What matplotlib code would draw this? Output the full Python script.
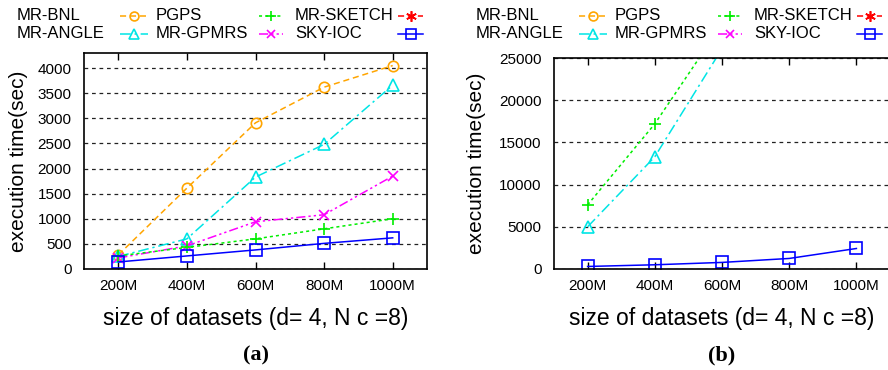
import matplotlib
matplotlib.use("Agg")
import matplotlib.pyplot as plt
from matplotlib.lines import Line2D
from matplotlib import font_manager

# dataset sizes (M records)
sizes = [200, 400, 600, 800, 1000]
size_labels = ["200M", "400M", "600M", "800M", "1000M"]

# panel (a): execution time in seconds
a_bnl = [280, 1610, 2910, 3620, 4050]
a_angle = [250, 600, 1830, 2480, 3660]
a_pgps = [260, 430, 600, 800, 1000]
a_gpmrs = [220, 460, 940, 1080, 1850]
a_skyioc = [140, 260, 380, 510, 620]

# panel (b): only the series that fit on the 0-25000 scale
b_sizes_short = [200, 400, 600]
b_pgps = [7600, 17200, 29000]
b_angle = [5000, 13300, 26100]
b_skyioc = [300, 500, 780, 1250, 2430]

W, H = 888, 370
fig = plt.figure(figsize=(W / 100, H / 100), dpi=100)

names = set(f.name for f in font_manager.fontManager.ttflist)
narrow = "Liberation Sans Narrow" if "Liberation Sans Narrow" in names else "Liberation Sans"
plt.rcParams["font.family"] = ["Liberation Sans", "DejaVu Sans"]

styles = {
    "MR-BNL": dict(color="#ffa500", ls=(0, (4, 2.5)), marker="o", ms=7.5),
    "MR-ANGLE": dict(color="#00e5e5", ls=(0, (7, 2.5, 1.5, 2.5)), marker="^", ms=8),
    "PGPS": dict(color="#00ee00", ls=(0, (2, 2)), marker="+", ms=8),
    "MR-GPMRS": dict(color="#ff00ff", ls=(0, (6, 2, 1.5, 2, 1.5, 2)), marker="x", ms=7),
    "MR-SKETCH": dict(color="#ff0000", ls=(0, (4, 2.5)), marker=(6, 2, 0), ms=9),
    "SKY-IOC": dict(color="#0000ff", ls="-", marker="s", ms=8),
}


def fx(x):
    return x / W


def fy(y):
    return 1 - y / H


def plot_series(ax, xs, ys, name):
    st = styles[name]
    ax.plot(xs, ys, color=st["color"], linestyle=st["ls"], lw=1.1,
            marker=st["marker"], ms=st["ms"], mfc="none", mec=st["color"], mew=1.2)


def draw_key(x0):
    order = [["MR-BNL", "MR-ANGLE"], ["PGPS", "MR-GPMRS"], ["MR-SKETCH", "SKY-IOC"]]
    text_dx = [0, 139, 278]
    samp = [(103, 131), (242, 266), (381, 406)]
    rows = [15.5, 34]
    for c, col in enumerate(order):
        for r, name in enumerate(col):
            st = styles[name]
            y = rows[r]
            fig.text(fx(x0 + text_dx[c]), fy(y), name, fontsize=12,
                     ha="left", va="center")
            sx0, sx1 = x0 + samp[c][0], x0 + samp[c][1]
            fig.add_artist(Line2D([fx(sx0), fx(sx1)], [fy(y), fy(y)],
                                  color=st["color"], linestyle=st["ls"], lw=1.1))
            fig.add_artist(Line2D([fx((sx0 + sx1) / 2)], [fy(y)], color=st["color"],
                                  marker=st["marker"], ms=st["ms"] * 0.85, mfc="none",
                                  mew=1.2, linestyle="none"))


def style_axes(ax, ymax, yticks, label, ylab_x):
    ax.set_xlim(100, 1100)
    ax.set_ylim(0, ymax)
    ax.set_xticks(sizes)
    ax.set_xticklabels(size_labels, fontfamily=narrow, fontsize=11)
    ax.set_yticks(yticks)
    ax.set_yticklabels([str(v) for v in yticks], fontfamily=narrow, fontsize=11)
    ax.tick_params(direction="in", length=5, width=1, top=True, right=True, pad=7)
    ax.tick_params(axis="y", length=0, pad=9)
    ax.yaxis.grid(True, color="#222222", linestyle=(0, (3, 3)), lw=0.9)
    for sp in ax.spines.values():
        sp.set_linewidth(1.2)
    bb = ax.get_position()
    ax.set_xlabel("size of datasets (d= 4, N c =8)", fontfamily=narrow, fontsize=16.5)
    ax.xaxis.label.set_va("center")
    ax.xaxis.set_label_coords(0.5, (fy(318) - bb.y0) / bb.height)
    ax.set_ylabel("execution time(sec)", fontsize=15)
    ax.yaxis.label.set_va("center")
    ax.yaxis.set_label_coords((fx(ylab_x) - bb.x0) / bb.width, 0.5)
    fig.text(bb.x0 + bb.width / 2 if label == "(a)" else fx(722), fy(355), label,
             ha="center", va="center", fontfamily="Liberation Serif",
             fontweight="bold", fontsize=16)


# panel (a)
ax1 = fig.add_axes([fx(84), fy(269), fx(427 - 84), (269 - 53) / H])
plot_series(ax1, sizes, a_bnl, "MR-BNL")
plot_series(ax1, sizes, a_angle, "MR-ANGLE")
plot_series(ax1, sizes, a_gpmrs, "MR-GPMRS")
plot_series(ax1, sizes, a_pgps, "PGPS")
plot_series(ax1, sizes, a_skyioc, "SKY-IOC")
style_axes(ax1, 4300, [0, 500, 1000, 1500, 2000, 2500, 3000, 3500, 4000], "(a)", 19)

# panel (b)
ax2 = fig.add_axes([fx(554), fy(269), fx(890 - 554), (269 - 58) / H])
plot_series(ax2, b_sizes_short, b_pgps, "PGPS")
plot_series(ax2, b_sizes_short, b_angle, "MR-ANGLE")
plot_series(ax2, sizes, b_skyioc, "SKY-IOC")
style_axes(ax2, 25000, [0, 5000, 10000, 15000, 20000, 25000], "(b)", 477)

draw_key(17)
draw_key(476)

fig.savefig("out.png", dpi=100)
